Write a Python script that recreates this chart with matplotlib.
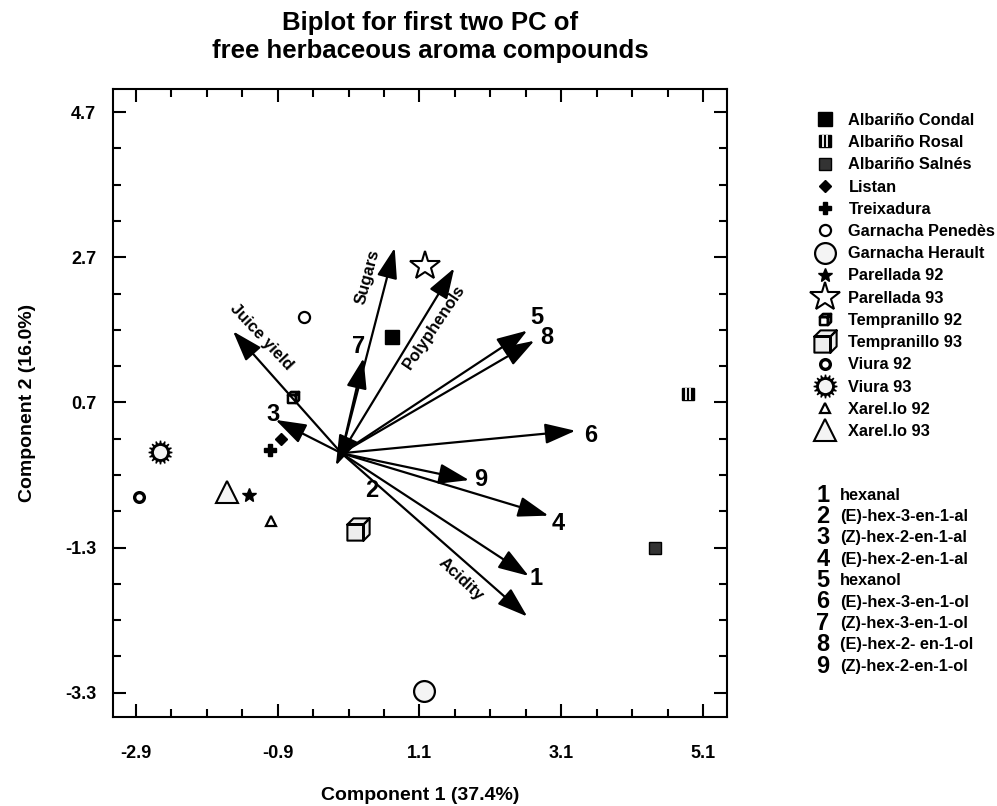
import numpy as np
import matplotlib.pyplot as plt
from matplotlib.path import Path
from matplotlib.ticker import MultipleLocator

plt.rcParams['font.family'] = ['Liberation Sans', 'DejaVu Sans']
plt.rcParams['font.weight'] = 'bold'
plt.rcParams['axes.unicode_minus'] = False

# cultivar scores on PC1 / PC2
cultivars = ['Albariño Condal', 'Albariño Rosal', 'Albariño Salnés', 'Listan',
             'Treixadura', 'Garnacha Penedès', 'Garnacha Herault', 'Parellada 92',
             'Parellada 93', 'Tempranillo 92', 'Tempranillo 93', 'Viura 92',
             'Viura 93', 'Xarel.lo 92', 'Xarel.lo 93']
pc1 = [0.71, 4.89, 4.42, -0.85, -1.01, -0.53, 1.16, -1.31,
       1.18, -0.69, 0.23, -2.86, -2.56, -1.00, -1.62]
pc2 = [1.60, 0.82, -1.30, 0.20, 0.04, 1.88, -3.27, -0.57,
       2.58, 0.78, -1.05, -0.60, 0.02, -0.94, -0.54]

# loadings (arrows)
vec_names = ['1', '2', '3', '4', '5', '6', '7', '8', '9',
             'Sugars', 'Polyphenols', 'Juice yield', 'Acidity']
vec_x = [2.64, -0.08, -0.93, 2.92, 2.62, 3.30, 0.31, 2.72, 1.80,
         0.75, 1.59, -1.53, 2.62]
vec_y = [-1.69, -0.17, 0.46, -0.86, 1.69, 0.31, 1.31, 1.55, -0.37,
         2.83, 2.55, 1.68, -2.25]
# label positions for the arrows
lab_x = [2.75, 0.42, -0.97, 3.06, 2.76, 3.52, 0.24, 2.90, 1.97,
         0.37, 1.31, -1.13, 1.69]
lab_y = [-1.73, -0.52, 0.54, -0.97, 1.87, 0.24, 1.47, 1.59, -0.36,
         2.43, 1.74, 1.60, -1.74]
lab_rot = [0, 0, 0, 0, 0, 0, 0, 0, 0, 75, 56, -47, -43]

compounds = ['hexanal', '(E)-hex-3-en-1-al', '(Z)-hex-2-en-1-al', '(E)-hex-2-en-1-al',
             'hexanol', '(E)-hex-3-en-1-ol', '(Z)-hex-3-en-1-ol', '(E)-hex-2- en-1-ol',
             '(Z)-hex-2-en-1-ol']

xticks = [-2.9, -0.9, 1.1, 3.1, 5.1]
yticks = [-3.3, -1.3, 0.7, 2.7, 4.7]

# custom marker shapes
cube = Path([(-1, -1), (0.45, -1), (0.45, 0.45), (-1, 0.45), (-1, -1),
             (-1, 0.45), (-0.45, 1), (1, 1), (0.45, 0.45), (-1, 0.45),
             (0.45, -1), (1, -0.45), (1, 1), (0.45, 0.45), (0.45, -1)],
            [1, 2, 2, 2, 79, 1, 2, 2, 2, 79, 1, 2, 2, 2, 79])
stripes = Path([(-0.3, -0.75), (-0.3, 0.75), (0.3, -0.75), (0.3, 0.75)], [1, 2, 1, 2])

fig = plt.figure(figsize=(9.97, 8.06), dpi=100)
ax = fig.add_axes([0.1133, 0.1104, 0.6159, 0.7792])

styles = [
    [dict(marker='s', ms=9.5, mfc='black', mec='black')],
    [dict(marker='s', ms=9, mfc='black', mec='black'),
     dict(marker=stripes, ms=8, mfc='none', mec='white', mew=1.3)],
    [dict(marker='s', ms=9, mfc='#333333', mec='black')],
    [dict(marker='D', ms=6.5, mfc='black', mec='black')],
    [dict(marker='P', ms=9, mfc='black', mec='black')],
    [dict(marker='o', ms=8, mfc='white', mec='black', mew=1.6)],
    [dict(marker='o', ms=15, mfc='#f4f4f4', mec='black', mew=1.6)],
    [dict(marker='*', ms=10, mfc='black', mec='black')],
    [dict(marker='*', ms=22, mfc='white', mec='black', mew=1.5)],
    [dict(marker=cube, ms=8, mfc='white', mec='black', mew=1.8)],
    [dict(marker=cube, ms=16, mfc='#eeeeee', mec='black', mew=1.5)],
    [dict(marker='o', ms=7, mfc='white', mec='black', mew=2.4)],
    [dict(marker=(16, 1, 0), ms=17, mfc='black', mec='black'),
     dict(marker='o', ms=11.5, mfc='#f4f4f4', mec='black', mew=2)],
    [dict(marker='^', ms=7.5, mfc='white', mec='black', mew=1.6)],
    [dict(marker='^', ms=16, mfc='#f4f4f4', mec='black', mew=1.5)],
]

handles = []
for i, name in enumerate(cultivars):
    parts = []
    for st in styles[i]:
        h, = ax.plot([pc1[i]], [pc2[i]], linestyle='none', zorder=3, **st)
        parts.append(h)
    handles.append(tuple(parts) if len(parts) > 1 else parts[0])

# arrows
for i in range(len(vec_names)):
    ax.annotate('', xy=(vec_x[i], vec_y[i]), xytext=(0, 0),
                arrowprops=dict(arrowstyle='-|>,head_length=1.25,head_width=0.42',
                                mutation_scale=15, lw=1.6, color='black',
                                shrinkA=0, shrinkB=0))
    if i < 9:
        ax.text(lab_x[i], lab_y[i], vec_names[i], fontsize=17, fontweight='bold',
                ha='center', va='center')
    else:
        ax.text(lab_x[i], lab_y[i], vec_names[i], fontsize=12, fontweight='bold',
                ha='center', va='center', rotation=lab_rot[i], rotation_mode='anchor')

ax.set_xlim(-3.224, 5.438)
ax.set_ylim(-3.635, 5.02)
ax.set_xticks(xticks, [f'{v:.1f}' for v in xticks])
ax.set_yticks(yticks, [f'{v:.1f}' for v in yticks])
ax.xaxis.set_minor_locator(MultipleLocator(0.5, offset=0.1))
ax.yaxis.set_minor_locator(MultipleLocator(0.5, offset=0.2))
ax.tick_params(which='both', direction='in', top=True, right=True, width=1.5)
ax.tick_params(which='major', length=9.5)
ax.tick_params(which='minor', length=5.5)
ax.tick_params(axis='x', which='major', pad=20, labelsize=13)
ax.tick_params(axis='y', which='major', pad=12, labelsize=13)
for s in ax.spines.values():
    s.set_linewidth(1.5)

ax.set_xlabel('Component 1 (37.4%)', fontsize=14, fontweight='bold')
ax.set_ylabel('Component 2 (16.0%)', fontsize=14, fontweight='bold')
ax.xaxis.set_label_coords(0.5, -0.112)
ax.yaxis.set_label_coords(-0.125, 0.5)

fig.text(430 / 997, 1 - 37 / 806, 'Biplot for first two PC of\nfree herbaceous aroma compounds',
         ha='center', va='center', fontsize=18.5, fontweight='bold', linespacing=1.25)

ax.legend(handles, cultivars, loc='upper left', bbox_to_anchor=(814 / 997, 1 - 113 / 806),
          bbox_transform=fig.transFigure, frameon=False, fontsize=11.8, numpoints=1,
          handlelength=1.3, handletextpad=0.8, labelspacing=0.44, borderpad=0,
          borderaxespad=0)

# numbered compound list
for i, c in enumerate(compounds):
    yy = 1 - (495 + 21.4 * i) / 806
    fig.text(823 / 997, yy, str(i + 1), fontsize=17, fontweight='bold', ha='center', va='center')
    fig.text(840 / 997, yy, c, fontsize=11.8, fontweight='bold', ha='left', va='center')

fig.savefig('out.png', dpi=100)
